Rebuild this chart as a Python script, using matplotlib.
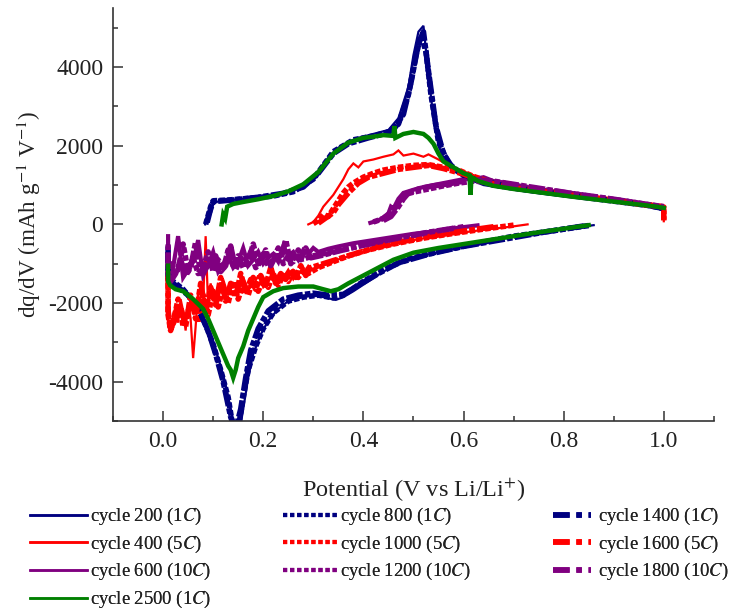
import matplotlib
matplotlib.use("Agg")
import matplotlib.pyplot as plt
from matplotlib.lines import Line2D
from matplotlib.ticker import MultipleLocator

plt.rcParams['font.family'] = ['Liberation Serif', 'DejaVu Serif']
plt.rcParams['mathtext.fontset'] = 'stix'

# ---- data: potential (V) and dq/dV (mAh g-1 V-1) ----
# 1C group (navy): cycles 200, 800, 1400
v200_c = [0.084, 0.087, 0.090, 0.093, 0.096, 0.100, 0.12, 0.15, 0.18, 0.21, 0.24, 0.27, 0.29, 0.31,
          0.33, 0.35, 0.37, 0.39, 0.42, 0.45, 0.47, 0.49, 0.50, 0.51, 0.52, 0.53, 0.54, 0.55, 0.56,
          0.575, 0.60, 0.64, 0.70, 0.76, 0.82, 0.88, 0.94, 0.98, 1.0]
q200_c = [0, 200, 100, 400, 300, 560, 600, 640, 680, 730, 790, 900, 1050, 1350,
          1700, 1950, 2100, 2200, 2300, 2400, 2700, 3500, 4300, 4900, 5050, 3800, 2700, 2000, 1700,
          1450, 1200, 1000, 880, 780, 690, 600, 510, 450, 420]
v200_d = [0.86, 0.80, 0.74, 0.68, 0.62, 0.56, 0.51, 0.47, 0.44, 0.41, 0.38, 0.36, 0.345, 0.33, 0.31,
          0.29, 0.27, 0.25, 0.23, 0.21, 0.195, 0.18, 0.17, 0.16, 0.152, 0.145, 0.135, 0.125, 0.115,
          0.10, 0.085, 0.07, 0.05, 0.03, 0.015, 0.01, 0.01]
q200_d = [-20, -120, -230, -360, -520, -680, -820, -1000, -1200, -1450, -1700, -1850, -1920, -1880, -1820,
          -1830, -1880, -1950, -2150, -2450, -2800, -3300, -3900, -4700, -5300, -5300, -4700, -4100, -3600,
          -3000, -2500, -2100, -1800, -1600, -1450, -1350, -600]

v800_c = [0.085, 0.095, 0.10, 0.13, 0.17, 0.22, 0.26, 0.30, 0.34, 0.38, 0.42, 0.45, 0.47, 0.49,
          0.505, 0.515, 0.525, 0.535, 0.55, 0.57, 0.60, 0.66, 0.74, 0.82, 0.90, 0.97, 1.0]
q800_c = [0, 450, 600, 620, 660, 720, 830, 1150, 1850, 2150, 2250, 2350, 2550, 3300,
          4300, 4800, 4400, 3300, 2100, 1550, 1250, 1000, 850, 720, 590, 480, 400]
v800_d = [0.85, 0.78, 0.70, 0.62, 0.55, 0.49, 0.44, 0.40, 0.36, 0.34, 0.31, 0.28, 0.25, 0.22, 0.20,
          0.185, 0.17, 0.16, 0.15, 0.14, 0.13, 0.115, 0.10, 0.08, 0.06, 0.04, 0.02, 0.01, 0.01]
q800_d = [-30, -160, -300, -500, -690, -880, -1150, -1450, -1800, -1870, -1800, -1850, -1950, -2250, -2650,
          -3100, -3700, -4400, -5200, -5200, -4400, -3700, -3050, -2400, -1950, -1650, -1450, -1300, -700]

v1400_c = [0.088, 0.094, 0.10, 0.14, 0.19, 0.24, 0.28, 0.31, 0.34, 0.37, 0.41, 0.44, 0.46, 0.48,
           0.495, 0.51, 0.52, 0.53, 0.545, 0.56, 0.58, 0.62, 0.70, 0.80, 0.90, 0.97, 1.0]
q1400_c = [50, 350, 580, 620, 690, 790, 950, 1300, 1800, 2050, 2200, 2300, 2400, 2800,
           3600, 4600, 4900, 3900, 2500, 1800, 1400, 1150, 930, 760, 600, 480, 400]
v1400_d = [0.84, 0.76, 0.68, 0.60, 0.53, 0.47, 0.43, 0.39, 0.36, 0.33, 0.30, 0.27, 0.24, 0.21, 0.19,
           0.175, 0.165, 0.155, 0.145, 0.135, 0.12, 0.105, 0.09, 0.07, 0.05, 0.03, 0.015, 0.01, 0.01]
q1400_d = [-40, -200, -380, -560, -760, -980, -1250, -1550, -1780, -1800, -1750, -1800, -1900, -2200, -2650,
           -3200, -3900, -4700, -5200, -4900, -4000, -3300, -2700, -2150, -1800, -1600, -1450, -1250, -500]

# 5C group (red): cycles 400, 1000, 1600
v400_c = [0.29, 0.30, 0.31, 0.32, 0.33, 0.34, 0.35, 0.36, 0.37, 0.38, 0.39, 0.40, 0.42, 0.44, 0.46, 0.47,
          0.48, 0.50, 0.52, 0.53, 0.55, 0.57, 0.60, 0.64, 0.70, 0.78, 0.86, 0.94, 0.99, 1.0, 1.0]
q400_c = [0, 60, 220, 450, 600, 750, 950, 1150, 1400, 1550, 1450, 1600, 1650, 1720, 1780, 1880,
          1750, 1800, 1720, 1780, 1650, 1500, 1350, 1150, 960, 820, 680, 540, 470, 420, 80]
v400_d = [0.728, 0.70, 0.66, 0.62, 0.58, 0.54, 0.50, 0.46, 0.42, 0.40, 0.38, 0.36, 0.34, 0.32, 0.30,
          0.29, 0.28, 0.27, 0.26, 0.25, 0.24, 0.23, 0.22, 0.21, 0.20, 0.19, 0.18, 0.17, 0.16, 0.15,
          0.14, 0.13, 0.12, 0.11, 0.10, 0.095, 0.09, 0.085, 0.08, 0.075, 0.07, 0.065, 0.06, 0.055,
          0.05, 0.045, 0.04, 0.035, 0.03, 0.025, 0.02, 0.015, 0.01, 0.01]
q400_d = [0, -50, -110, -170, -240, -310, -400, -500, -620, -700, -780, -850, -930, -1050, -1150,
          -1050, -1250, -1200, -1400, -1150, -1350, -1500, -1250, -1450, -1600, -1300, -1550, -1650, -1350, -1700,
          -1500, -1800, -1400, -1750, -1900, -1500, -2100, -300, -1950, -2300, -1700, -2600, -3400, -2400,
          -2000, -2700, -2200, -1900, -2500, -2100, -2300, -2700, -2600, -1000]

v1000_c = [0.30, 0.31, 0.32, 0.33, 0.34, 0.35, 0.36, 0.37, 0.38, 0.40, 0.42, 0.44, 0.47, 0.50, 0.53,
           0.56, 0.59, 0.62, 0.66, 0.72, 0.80, 0.88, 0.95, 1.0, 1.0]
q1000_c = [20, 100, 250, 200, 400, 600, 800, 950, 1050, 1200, 1300, 1380, 1450, 1500, 1520,
           1450, 1380, 1220, 1050, 900, 780, 650, 520, 450, 100]
v1000_d = [0.70, 0.64, 0.58, 0.52, 0.46, 0.41, 0.37, 0.34, 0.31, 0.29, 0.28, 0.27, 0.26, 0.25, 0.24,
           0.23, 0.22, 0.21, 0.20, 0.19, 0.18, 0.17, 0.16, 0.15, 0.14, 0.13, 0.12, 0.11, 0.10, 0.09,
           0.08, 0.07, 0.06, 0.05, 0.04, 0.03, 0.02, 0.015, 0.01, 0.01]
q1000_d = [-20, -120, -230, -350, -500, -650, -800, -950, -1100, -1250, -1150, -1350, -1200, -1450, -1300,
           -1550, -1250, -1600, -1400, -1700, -1350, -1800, -1500, -1900, -1450, -2000, -1600, -2100, -1700, -2300,
           -1800, -2500, -2000, -2200, -2600, -1900, -2500, -2700, -2300, -1200]

v1600_c = [0.31, 0.32, 0.34, 0.35, 0.37, 0.39, 0.41, 0.44, 0.47, 0.50, 0.53, 0.56, 0.60, 0.64, 0.70,
           0.78, 0.86, 0.94, 1.0, 1.0]
q1600_c = [30, 120, 300, 500, 800, 1050, 1200, 1300, 1400, 1450, 1500, 1420, 1280, 1080, 930,
           800, 670, 540, 440, 120]
v1600_d = [0.66, 0.60, 0.54, 0.48, 0.43, 0.39, 0.35, 0.32, 0.295, 0.285, 0.275, 0.265, 0.255, 0.245, 0.235,
           0.225, 0.215, 0.205, 0.195, 0.185, 0.175, 0.165, 0.155, 0.145, 0.135, 0.125, 0.115, 0.105, 0.095,
           0.085, 0.075, 0.065, 0.055, 0.045, 0.035, 0.025, 0.015, 0.01, 0.01]
q1600_d = [-60, -170, -290, -430, -570, -720, -880, -1000, -1100, -1300, -1050, -1350, -1150, -1400, -1250,
           -1500, -1100, -1550, -1300, -1650, -1400, -1750, -1250, -1850, -1500, -1950, -1350, -2050, -1600,
           -2200, -1500, -2400, -1800, -2600, -2100, -2400, -2650, -2200, -1300]

# 10C group (purple): cycles 600, 1200, 1800
v600_c = [0.414, 0.43, 0.44, 0.45, 0.455, 0.46, 0.47, 0.48, 0.50, 0.52, 0.54, 0.56, 0.58, 0.60, 0.62,
          0.64, 0.66, 0.70, 0.75, 0.80, 0.86, 0.92, 0.97, 1.0]
q600_c = [40, 100, 180, 280, 450, 400, 650, 800, 880, 950, 1000, 1050, 1100, 1150, 1150,
          1200, 1100, 1000, 900, 800, 680, 580, 500, 430]
v600_d = [0.628, 0.60, 0.57, 0.54, 0.50, 0.47, 0.44, 0.41, 0.38, 0.35, 0.33, 0.31, 0.30, 0.29, 0.28,
          0.27, 0.26, 0.25, 0.24, 0.23, 0.22, 0.21, 0.20, 0.19, 0.18, 0.17, 0.16, 0.15, 0.14, 0.13,
          0.12, 0.11, 0.10, 0.09, 0.08, 0.07, 0.06, 0.05, 0.04, 0.03, 0.02, 0.01, 0.01]
q600_d = [-25, -70, -120, -180, -240, -300, -360, -420, -480, -560, -620, -700, -600, -750, -650,
          -900, -700, -800, -550, -950, -750, -850, -1000, -700, -900, -1050, -600, -950, -1100, -800,
          -1000, -1200, -700, -1050, -1300, -400, -950, -1150, -1350, -300, -1100, -1400, -300]

v1200_c = [0.42, 0.44, 0.46, 0.47, 0.48, 0.50, 0.53, 0.56, 0.59, 0.62, 0.65, 0.68, 0.72, 0.78, 0.85,
           0.92, 0.97, 1.0]
q1200_c = [60, 150, 350, 550, 750, 820, 900, 980, 1050, 1100, 1080, 1050, 950, 850, 720,
           600, 500, 440]
v1200_d = [0.60, 0.55, 0.50, 0.45, 0.40, 0.36, 0.33, 0.30, 0.28, 0.27, 0.26, 0.25, 0.24, 0.23, 0.22,
           0.21, 0.20, 0.19, 0.18, 0.17, 0.16, 0.15, 0.14, 0.13, 0.12, 0.11, 0.10, 0.09, 0.08, 0.07,
           0.06, 0.05, 0.04, 0.03, 0.02, 0.015, 0.01, 0.01]
q1200_d = [-60, -170, -280, -400, -520, -640, -720, -800, -880, -650, -950, -800, -1000, -600, -900,
           -1050, -750, -1000, -500, -950, -1100, -800, -1050, -650, -1150, -900, -1200, -700, -1100, -1250,
           -850, -1200, -500, -1150, -1300, -1000, -1400, -700]

v1800_c = [0.44, 0.455, 0.47, 0.48, 0.49, 0.51, 0.54, 0.57, 0.60, 0.63, 0.66, 0.70, 0.75, 0.82, 0.90,
           0.96, 1.0]
q1800_c = [100, 200, 450, 650, 800, 900, 980, 1030, 1100, 1130, 1100, 1020, 920, 780, 640,
           520, 450]
v1800_d = [0.58, 0.53, 0.48, 0.43, 0.39, 0.35, 0.32, 0.295, 0.285, 0.275, 0.265, 0.255, 0.245, 0.235, 0.225,
           0.215, 0.205, 0.195, 0.185, 0.175, 0.165, 0.155, 0.145, 0.135, 0.125, 0.115, 0.105, 0.095, 0.085,
           0.075, 0.065, 0.055, 0.045, 0.035, 0.025, 0.015, 0.01, 0.01]
q1800_d = [-100, -200, -320, -450, -560, -680, -780, -850, -600, -900, -750, -1000, -400, -900, -800,
           -1050, -650, -950, -1100, -700, -1000, -850, -1150, -550, -1050, -1200, -800, -1100, -950,
           -1250, -450, -1100, -1300, -900, -1250, -1450, -1350, -500]

# 1C again (green): cycle 2500
v2500_c = [0.117, 0.120, 0.124, 0.128, 0.14, 0.16, 0.19, 0.22, 0.25, 0.28, 0.31, 0.34, 0.37, 0.40, 0.42,
           0.44, 0.46, 0.462, 0.464, 0.48, 0.50, 0.52, 0.53, 0.54, 0.55, 0.56, 0.58, 0.60, 0.612, 0.614,
           0.616, 0.63, 0.66, 0.70, 0.76, 0.82, 0.88, 0.94, 0.98, 1.0]
q2500_c = [0, 250, 150, 450, 520, 570, 640, 720, 840, 1020, 1330, 1800, 2080, 2200, 2230,
           2270, 2250, 2500, 2200, 2300, 2350, 2300, 2200, 2050, 1800, 1600, 1450, 1300, 1250, 750,
           1200, 1100, 980, 900, 800, 700, 610, 520, 460, 420]
v2500_d = [0.85, 0.80, 0.74, 0.68, 0.61, 0.55, 0.50, 0.46, 0.43, 0.40, 0.37, 0.35, 0.335, 0.32, 0.30,
           0.27, 0.24, 0.22, 0.20, 0.19, 0.18, 0.17, 0.16, 0.15, 0.145, 0.14, 0.135, 0.13, 0.12, 0.11,
           0.10, 0.09, 0.08, 0.06, 0.04, 0.025, 0.014, 0.01, 0.01]
q2500_d = [-20, -110, -220, -340, -480, -600, -720, -900, -1100, -1300, -1500, -1650, -1700, -1650, -1580,
           -1580, -1620, -1700, -1850, -2100, -2400, -2700, -3100, -3400, -3700, -3900, -3700, -3600, -3300, -3000,
           -2700, -2400, -2150, -1900, -1700, -1650, -1550, -1450, -1050]

NAVY, RED, PURPLE, GREEN = '#000080', '#ff0000', '#800080', '#008000'

# (label, colour, style, charge V, charge Q, discharge V, discharge Q) in drawing order
series = [
    ('cycle 200 (1$\\it{C}$)', NAVY, 'solid', v200_c, q200_c, v200_d, q200_d),
    ('cycle 400 (5$\\it{C}$)', RED, 'solid', v400_c, q400_c, v400_d, q400_d),
    ('cycle 600 (10$\\it{C}$)', PURPLE, 'solid', v600_c, q600_c, v600_d, q600_d),
    ('cycle 800 (1$\\it{C}$)', NAVY, 'dot', v800_c, q800_c, v800_d, q800_d),
    ('cycle 1000 (5$\\it{C}$)', RED, 'dot', v1000_c, q1000_c, v1000_d, q1000_d),
    ('cycle 1200 (10$\\it{C}$)', PURPLE, 'dot', v1200_c, q1200_c, v1200_d, q1200_d),
    ('cycle 1400 (1$\\it{C}$)', NAVY, 'dashdot', v1400_c, q1400_c, v1400_d, q1400_d),
    ('cycle 1600 (5$\\it{C}$)', RED, 'dashdot', v1600_c, q1600_c, v1600_d, q1600_d),
    ('cycle 1800 (10$\\it{C}$)', PURPLE, 'dashdot', v1800_c, q1800_c, v1800_d, q1800_d),
    ('cycle 2500 (1$\\it{C}$)', GREEN, 'solid', v2500_c, q2500_c, v2500_d, q2500_d),
]

# how each style is drawn in the plot (dense data makes them look like bands)
plot_style = {
    'solid': dict(linestyle='-', linewidth=1.6),
    'dot': dict(linestyle=(0, (1, 0.4)), linewidth=4.0),
    'dashdot': dict(linestyle=(0, (3, 0.4, 1, 0.4)), linewidth=4.0),
}
lw_override = {'cycle 2500': 3.2, 'cycle 600': 3.0}
# how each style is shown in the legend
legend_style = {
    'solid': dict(linestyle='-', linewidth=1.8),
    'dot': dict(linestyle=(0, (1, 0.7)), linewidth=3.0),
    'dashdot': dict(linestyle=(0, (3, 1.2, 1, 1.2)), linewidth=4.0),
}

fig = plt.figure(figsize=(7.45, 6.09), dpi=100)
ax = fig.add_axes([0.1517, 0.3087, 0.8065, 0.678])

for label, color, style, vc, qc, vd, qd in series:
    kw = dict(plot_style[style])
    key = label.split(' (')[0]
    if key in lw_override:
        kw['linewidth'] = lw_override[key]
    ax.plot(vc, qc, color=color, solid_joinstyle='miter', **kw)
    ax.plot(vd, qd, color=color, solid_joinstyle='miter', **kw)

ax.set_xlim(-0.1, 1.1)
ax.set_ylim(-5000, 5500)
ax.xaxis.set_minor_locator(MultipleLocator(0.1))
ax.yaxis.set_minor_locator(MultipleLocator(1000))
ax.set_xticks([0.0, 0.2, 0.4, 0.6, 0.8, 1.0])
ax.set_xticklabels(['0.0', '0.2', '0.4', '0.6', '0.8', '1.0'])
ax.set_yticks([-4000, -2000, 0, 2000, 4000])
ax.set_yticklabels(['-4000', '-2000', '0', '2000', '4000'])

ax.spines['top'].set_visible(False)
ax.spines['right'].set_visible(False)
for s in ('left', 'bottom'):
    ax.spines[s].set_linewidth(1.2)
    ax.spines[s].set_color('#333333')
ax.tick_params(which='major', direction='in', length=7, width=1.1, color='#333333',
               labelsize=17, labelcolor='#222222', pad=7)
ax.tick_params(which='minor', direction='in', length=3.5, width=1.1, color='#333333')

ax.set_xlabel('Potential (V vs Li/Li$^{+}$)', fontsize=17.5, color='#222222', labelpad=18)
ax.set_ylabel('dq/dV (mAh g$^{-1}$ V$^{-1}$)', fontsize=16.7, color='#222222', labelpad=4)

# three legend columns, placed like the original
columns = [series[0:3] + series[9:10], series[3:6], series[6:9]]
col_x = [0.040, 0.380, 0.742]
col_hl = [3.1, 3.0, 2.05]
col_pad = [0.15, 0.05, 0.4]
for items, x0, hl, pad in zip(columns, col_x, col_hl, col_pad):
    handles = [Line2D([], [], color=c, **legend_style[st]) for _, c, st, *_ in items]
    labels = [lab for lab, *_ in items]
    leg = fig.legend(handles, labels, loc='upper left', bbox_to_anchor=(x0, 0.169),
                     frameon=False, fontsize=13.4, handlelength=hl, handletextpad=pad,
                     labelspacing=0.35, borderpad=0, borderaxespad=0)
    for t in leg.get_texts():
        t.set_color('#222222')
    fig.add_artist(leg)

fig.savefig('out.png', dpi=100)
